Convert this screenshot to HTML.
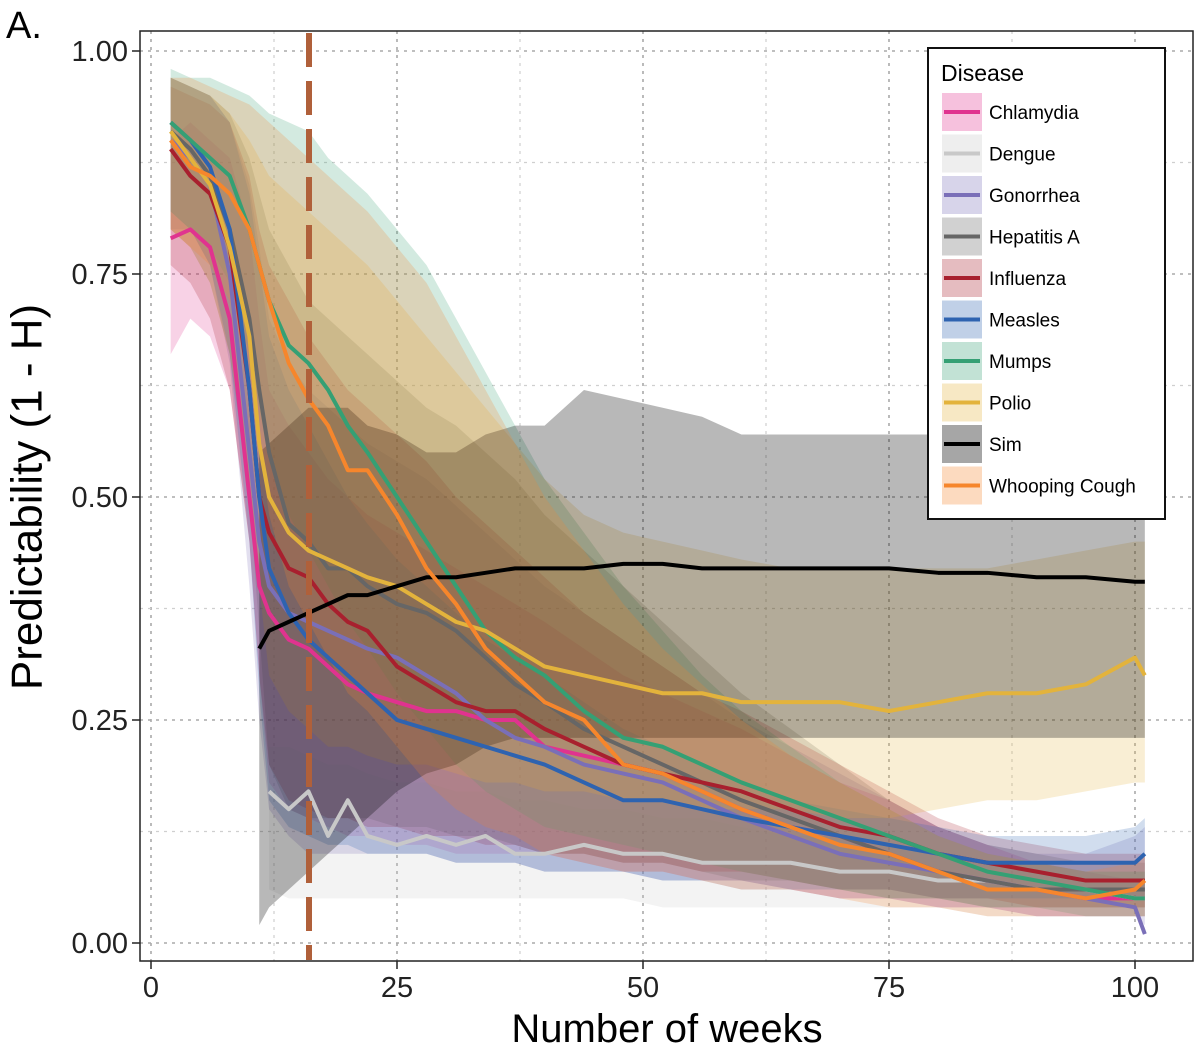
<!DOCTYPE html>
<html><head><meta charset="utf-8"><style>
body{margin:0;background:#fff;}
svg text{font-family:"Liberation Sans",sans-serif;}
</style></head><body>
<svg id="chart" width="1200" height="1052" xmlns="http://www.w3.org/2000/svg">
<text x="6" y="38" font-size="38">A.</text>
<g id="grid"></g>
<g id="bands"></g>
<g id="lines"></g>
<line x1="309" y1="33" x2="309" y2="960" stroke="#b0603a" stroke-width="6" stroke-dasharray="34,14"/>
<rect x="140" y="31" width="1053" height="930" fill="none" stroke="#222" stroke-width="1.5"/>
<g id="axes"></g>
<text x="30" y="497" font-size="44" text-anchor="middle" transform="rotate(-90 30 497)" dominant-baseline="middle">Predictability (1 - H)</text>
<text x="667" y="1042" font-size="40" text-anchor="middle">Number of weeks</text>
<g id="legend"></g>
</svg>
<script>
const W=[2,4,6,8,10,11,12,14,16,18,20,22,25,28,31,34,37,40,44,48,52,56,60,65,70,75,80,85,90,95,100,101];
const names=["Chlamydia","Dengue","Gonorrhea","Hepatitis A","Influenza","Measles","Mumps","Polio","Sim","Whooping Cough"];
const colors=["#e0338f","#c8c8c8","#7a6fb8","#666666","#a8202e","#2e63b0","#35a074","#e3b33c","#000000","#f6862c"];
const N=null;
const chlamydia=[.79,.80,.78,.70,.50,.40,.37,.34,.33,.31,.29,.28,.27,.26,.26,.25,.25,.22,.21,.20,.19,.17,.15,.13,.12,.10,.08,.07,.06,.05,.05,.05];
const chlamydiaLo=[.66,.70,.68,.62,.45,.30,.18,.15,.14,.13,.12,.12,.11,.11,.10,.10,.10,.10,.09,.08,.08,.07,.07,.06,.05,.05,.04,.04,.03,.03,.03,.03];
const chlamydiaHi=[.90,.92,.90,.88,.80,.70,.62,.58,.55,.52,.50,.48,.46,.44,.42,.40,.38,.36,.33,.30,.28,.26,.24,.21,.18,.16,.13,.11,.09,.08,.07,.07];
const dengue=[N,N,N,N,N,N,.17,.15,.17,.12,.16,.12,.11,.12,.11,.12,.10,.10,.11,.10,.10,.09,.09,.09,.08,.08,.07,.07,.06,.06,.05,.05];
const dengueLo=[N,N,N,N,N,N,.06,.05,.05,.05,.05,.05,.05,.05,.05,.05,.05,.05,.05,.05,.04,.04,.04,.04,.04,.04,.04,.03,.03,.03,.03,.03];
const dengueHi=[N,N,N,N,N,N,.22,.22,.21,.20,.20,.19,.18,.18,.17,.17,.16,.16,.15,.15,.14,.14,.13,.12,.12,.11,.10,.09,.09,.08,.08,.08];
const gonorrhea=[.90,.88,.85,.75,.55,.45,.40,.37,.36,.35,.34,.33,.32,.30,.28,.25,.23,.22,.20,.19,.18,.16,.14,.12,.10,.09,.08,.07,.06,.05,.04,.01];
const gonorrheaLo=[.80,.80,.76,.65,.40,.25,.15,.12,.10,.10,.10,.10,.10,.10,.09,.09,.09,.08,.08,.08,.07,.07,.06,.06,.05,.05,.04,.04,.03,.03,.03,.02];
const gonorrheaHi=[.97,.96,.95,.92,.85,.78,.70,.65,.62,.60,.58,.56,.54,.52,.49,.46,.43,.40,.37,.34,.31,.28,.25,.22,.19,.16,.13,.11,.10,.10,.12,.13];
const hepA=[.91,.89,.86,.80,.70,.62,.55,.47,.45,.42,.42,.40,.38,.37,.35,.32,.29,.27,.24,.22,.20,.18,.16,.14,.12,.10,.08,.07,.06,.06,.06,.06];
const hepALo=[.80,.78,.74,.66,.50,.35,.20,.15,.14,.14,.14,.14,.13,.13,.12,.12,.11,.10,.10,.09,.09,.08,.07,.07,.06,.05,.05,.04,.04,.04,.04,.04];
const hepAHi=[.97,.96,.95,.93,.88,.84,.80,.76,.72,.70,.68,.66,.63,.60,.58,.55,.52,.48,.44,.40,.36,.32,.28,.24,.20,.16,.13,.11,.10,.09,.09,.09];
const influenza=[.89,.86,.84,.78,.62,.50,.46,.42,.41,.38,.36,.35,.31,.29,.27,.26,.26,.24,.22,.20,.19,.18,.17,.15,.13,.12,.10,.09,.08,.07,.07,.07];
const influenzaLo=[.76,.74,.70,.62,.45,.30,.20,.16,.15,.14,.14,.13,.13,.12,.12,.11,.11,.10,.10,.09,.09,.08,.08,.07,.06,.06,.05,.05,.04,.04,.04,.04];
const influenzaHi=[.96,.95,.94,.92,.86,.80,.76,.72,.68,.65,.62,.60,.57,.54,.50,.47,.44,.41,.37,.34,.31,.28,.26,.23,.20,.17,.14,.12,.11,.10,.10,.10];
const measles=[.92,.90,.87,.80,.62,.50,.42,.37,.34,.32,.30,.28,.25,.24,.23,.22,.21,.20,.18,.16,.16,.15,.14,.13,.12,.11,.10,.09,.09,.09,.09,.10];
const measlesLo=[.82,.80,.76,.66,.45,.28,.16,.13,.12,.11,.11,.10,.10,.10,.09,.09,.09,.08,.08,.08,.07,.07,.07,.06,.06,.06,.05,.05,.05,.05,.05,.05];
const measlesHi=[.97,.96,.95,.92,.84,.76,.68,.62,.58,.54,.50,.47,.43,.40,.37,.34,.32,.30,.27,.24,.22,.20,.18,.16,.15,.14,.13,.12,.12,.12,.13,.14];
const mumps=[.92,.90,.88,.86,.80,.76,.72,.67,.65,.62,.58,.55,.50,.45,.40,.35,.32,.30,.26,.23,.22,.20,.18,.16,.14,.12,.10,.08,.07,.06,.05,.05];
const mumpsLo=[.82,.80,.78,.74,.66,.60,.54,.48,.44,.40,.36,.33,.28,.24,.20,.17,.15,.13,.12,.11,.10,.09,.08,.07,.06,.05,.05,.04,.04,.03,.03,.03];
const mumpsHi=[.98,.97,.97,.96,.95,.94,.93,.92,.91,.88,.86,.84,.80,.76,.70,.64,.58,.52,.46,.40,.35,.30,.26,.22,.18,.15,.12,.10,.09,.08,.08,.08];
const polio=[.91,.88,.85,.78,.68,.56,.50,.46,.44,.43,.42,.41,.40,.38,.36,.35,.33,.31,.30,.29,.28,.28,.27,.27,.27,.26,.27,.28,.28,.29,.32,.30];
const polioLo=[.80,.78,.74,.66,.52,.40,.30,.26,.24,.22,.22,.21,.20,.20,.19,.18,.18,.17,.17,.16,.16,.15,.15,.15,.14,.14,.15,.16,.16,.17,.18,.18];
const polioHi=[.97,.96,.95,.93,.90,.88,.86,.84,.82,.80,.78,.76,.72,.68,.64,.60,.56,.52,.48,.46,.45,.44,.43,.42,.42,.42,.42,.42,.43,.44,.45,.45];
const sim=[N,N,N,N,N,.33,.35,.36,.37,.38,.39,.39,.40,.41,.41,.415,.42,.42,.42,.425,.425,.42,.42,.42,.42,.42,.415,.415,.41,.41,.405,.405];
const simLo=[N,N,N,N,N,.02,.04,.06,.08,.10,.12,.14,.17,.19,.20,.22,.23,.23,.23,.23,.23,.23,.23,.23,.23,.23,.23,.23,.23,.23,.23,.23];
const simHi=[N,N,N,N,N,.55,.56,.58,.60,.60,.60,.58,.57,.55,.55,.57,.58,.58,.62,.61,.60,.59,.57,.57,.57,.57,.57,.57,.57,.57,.57,.57];
const whooping=[.90,.87,.86,.84,.80,.76,.72,.65,.61,.58,.53,.53,.48,.42,.38,.33,.30,.27,.25,.20,.19,.17,.15,.13,.11,.10,.08,.06,.06,.05,.06,.07];
const whoopingLo=[.80,.78,.76,.72,.64,.56,.48,.40,.36,.32,.28,.26,.22,.18,.15,.13,.12,.10,.09,.08,.08,.07,.06,.06,.05,.04,.04,.03,.03,.03,.03,.03];
const whoopingHi=[.97,.97,.96,.95,.94,.93,.92,.90,.88,.86,.84,.82,.78,.74,.68,.62,.56,.50,.44,.38,.33,.29,.25,.21,.18,.15,.12,.10,.09,.08,.09,.10];
const means=[chlamydia,dengue,gonorrhea,hepA,influenza,measles,mumps,polio,sim,whooping];
const los=[chlamydiaLo,dengueLo,gonorrheaLo,hepALo,influenzaLo,measlesLo,mumpsLo,polioLo,simLo,whoopingLo];
const his=[chlamydiaHi,dengueHi,gonorrheaHi,hepAHi,influenzaHi,measlesHi,mumpsHi,polioHi,simHi,whoopingHi];
const xTicks=[0,25,50,75,100];
const yTicks=[0,0.25,0.5,0.75,1];
const yTickLabels=["0.00","0.25","0.50","0.75","1.00"];
const NS="http://www.w3.org/2000/svg";
const xs=v=>151+v*9.84;
const ys=v=>943-v*892;
function mk(tag,attrs,parent){const e=document.createElementNS(NS,tag);for(const k in attrs)e.setAttribute(k,attrs[k]);parent.appendChild(e);return e;}
const grid=document.getElementById('grid'),axes=document.getElementById('axes');
for(let i=0;i<=8;i++){const v=i*12.5;const g=mk('line',{x1:xs(v),x2:xs(v),y1:31,y2:961,stroke:i%2?'#cfcfcf':'#aaa','stroke-width':i%2?1.2:1.6,'stroke-dasharray':'3,5'},grid);

}
for(let i=0;i<=8;i++){const v=i*0.125;const g=mk('line',{x1:140,x2:1193,y1:ys(v),y2:ys(v),stroke:i%2?'#cfcfcf':'#aaa','stroke-width':i%2?1.2:1.6,'stroke-dasharray':'3,5'},grid);

}
xTicks.forEach(v=>{const t=mk('line',{x1:xs(v),x2:xs(v),y1:961,y2:969,stroke:'#222','stroke-width':1.5},axes);


const l=mk('text',{x:xs(v),y:997,'font-size':29,'text-anchor':'middle',fill:'#222'},axes);l.textContent=v;

});
yTicks.forEach((v,i)=>{const t=mk('line',{x1:132,x2:140,y1:ys(v),y2:ys(v),stroke:'#222','stroke-width':1.5},axes);


const l=mk('text',{x:128,y:ys(v)+10,'font-size':29,'text-anchor':'end',fill:'#222'},axes);l.textContent=yTickLabels[i];

});
const bands=document.getElementById('bands'),lines=document.getElementById('lines');
names.forEach((n,s)=>{
 const up=[],dn=[],pts=[];
 W.forEach((w,i)=>{if(his[s][i]!=null){up.push(xs(w)+','+ys(his[s][i]));dn.unshift(xs(w)+','+ys(los[s][i]));}
 if(means[s][i]!=null)pts.push(xs(w)+','+ys(means[s][i]));});
 const b=mk('polygon',{points:up.concat(dn).join(' '),fill:colors[s],'fill-opacity':s==8?0.28:0.22},bands);
 
 
 const l=mk('polyline',{points:pts.join(' '),fill:'none',stroke:colors[s],'stroke-width':4,'stroke-linejoin':'round'},lines);
 
 
});
const lg=document.getElementById('legend');
const box=mk('rect',{x:928,y:48,width:237,height:471,fill:'#fff',stroke:'#111','stroke-width':2},lg);


const tt=mk('text',{x:941,y:81,'font-size':23},lg);tt.textContent='Disease';


names.forEach((n,s)=>{const y=112+s*41.5;
 const g=mk('g',{},lg);
 
 
 mk('rect',{x:942,y:y-19,width:40,height:38,fill:colors[s],'fill-opacity':s==8?0.35:0.3},g);
 mk('line',{x1:944,x2:980,y1:y,y2:y,stroke:colors[s],'stroke-width':4},g);
 const t=mk('text',{x:989,y:y+7,'font-size':19},g);t.textContent=n;});
</script>
</body></html>
